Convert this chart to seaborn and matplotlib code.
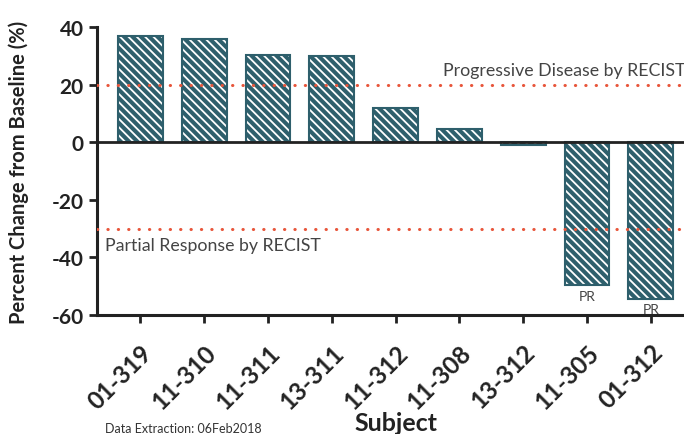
import matplotlib
matplotlib.use("Agg")
import matplotlib.pyplot as plt
import seaborn as sns
import pandas as pd

# data
subjects = ['01-319', '11-310', '11-311', '13-311', '11-312', '11-308', '13-312', '11-305', '01-312']
pct_change = [36.8, 36.0, 30.2, 29.8, 12.0, 4.6, -0.9, -49.7, -54.4]
pr_subjects = ['11-305', '01-312']
pd_line = 20
pr_line = -30
y_ticks = [-60, -40, -20, 0, 20, 40]

teal = '#2E5F6C'
red = '#E8553A'

sns.set_theme(style='white')
plt.rcParams['font.family'] = ['Lato', 'DejaVu Sans']
plt.rcParams['hatch.linewidth'] = 1.3

df = pd.DataFrame({'subject': subjects, 'change': pct_change})

fig = plt.figure(figsize=(6.84, 4.35), dpi=100)
ax = fig.add_axes([97 / 684, 1 - 316 / 435, 1 - 97 / 684, (316 - 28) / 435])

sns.barplot(data=df, x='subject', y='change', color=teal, width=0.7,
            saturation=1, ax=ax, zorder=3)
for p in ax.patches:
    p.set_hatch('\\\\\\\\')
    p.set_edgecolor('white')
    p.set_linewidth(0)
# outline on top of the hatched bars
for p in list(ax.patches):
    ax.add_patch(plt.Rectangle(p.get_xy(), p.get_width(), p.get_height(),
                               fill=False, edgecolor=teal, lw=1.5, zorder=4))

ax.axhline(0, color='#222222', lw=2, zorder=5)
for yv in [pd_line, pr_line]:
    ax.axhline(yv, color=red, lw=2.2, linestyle=(0, (0.1, 3.3)),
               dash_capstyle='round', zorder=6)

ax.text(4.74, 23.5, 'Progressive Disease by RECIST', fontsize=12.8,
        color='#444444', ha='left', va='baseline')
ax.text(-0.56, -37.3, 'Partial Response by RECIST', fontsize=12.8,
        color='#444444', ha='left', va='baseline')
for s in pr_subjects:
    i = subjects.index(s)
    ax.text(i, pct_change[i] - 1.5, 'PR', fontsize=10, color='#444444',
            ha='center', va='top')

ax.set_ylim(-60, 40)
ax.set_xlim(-0.68, 8.52)
ax.set_yticks(y_ticks)
ax.set_yticklabels([str(v) for v in y_ticks], fontsize=15, fontweight='bold', color='#222222')
ax.set_xticks(range(len(subjects)))
ax.set_xticklabels(subjects, rotation=45, ha='right', rotation_mode='anchor',
                   fontsize=17.5, fontweight='bold', color='#222222')

sns.despine(ax=ax)
for side in ['left', 'bottom']:
    ax.spines[side].set_color('#222222')
    ax.spines[side].set_linewidth(2.2)
ax.tick_params(axis='both', direction='out', length=6, width=2, color='#222222',
               left=True, bottom=True)
ax.tick_params(axis='x', pad=12)

ax.set_ylabel('Percent Change from Baseline (%)', fontsize=14.5, fontweight='bold',
              color='#222222')
ax.yaxis.set_label_coords(-0.115, 0.5)
ax.set_xlabel('Subject', fontsize=18, fontweight='bold', color='#222222')
ax.xaxis.set_label_coords(0.509, -0.335)

fig.text(105 / 684, 2 / 435, 'Data Extraction: 06Feb2018', fontsize=9,
         color='#333333', ha='left', va='baseline')

fig.savefig('out.png', dpi=100)
